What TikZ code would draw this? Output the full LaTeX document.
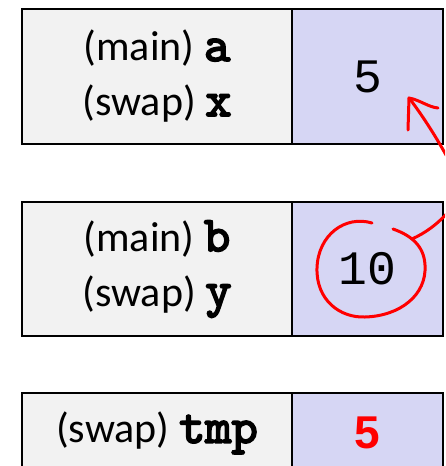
\documentclass[tikz,border=0pt]{standalone}
\usepackage{fontspec}
\setmainfont{Carlito}
\newfontfamily\codefont{Liberation Mono}
\newfontfamily\boldcode{lmmono10-regular}[Extension=.otf,FakeBold=3.5]
\newfontfamily\numfont{Liberation Sans}
\definecolor{cellgray}{HTML}{F2F2F2}
\definecolor{cellblue}{HTML}{D6D6F4}
\definecolor{penred}{HTML}{FF0000}
\newcommand{\varname}[1]{{\boldcode\fontsize{50}{55}\selectfont #1}}
\begin{document}
\begin{tikzpicture}[x=1pt,y=-1pt,
  namecell/.style={draw,line width=2.5pt,fill=cellgray,minimum width=270pt,
    inner sep=0pt,outer sep=0pt,align=center,font=\fontsize{42}{55}\selectfont},
  valcell/.style={draw,line width=2.5pt,fill=cellblue,minimum width=151pt,
    inner sep=0pt,outer sep=0pt,anchor=west,font=\codefont\fontsize{48}{55}\selectfont},
  redpen/.style={draw=penred,line width=3pt,line cap=round,line join=round}]
\useasboundingbox (0,0) rectangle (445,466);
\clip (0,0) rectangle (445,466);
% a / x
\node[namecell,minimum height=135pt] (mainA) at (157,76.5) {(main) \varname{a}\\(swap) \varname{x}};
\node[valcell,minimum height=135pt] (valA) at (mainA.east) {5};
% b / y
\node[namecell,minimum height=134pt] (mainB) at (157,269) {(main) \varname{b}\\(swap) \varname{y}};
\node[valcell,minimum height=134pt] (valB) at (mainB.east) {10};
% tmp
\node[namecell,minimum height=80pt] (tmpName) at (157,433) {(swap) \varname{tmp}};
\node[valcell,minimum height=80pt,font=\numfont\bfseries\fontsize{46}{50}\selectfont,
  text=penred] (tmpVal) at (tmpName.east) {5};
% pen marks
\coordinate (tip) at (409,98);
\draw[redpen] (372,223) .. controls (345,215) and (318,235) .. (317,268)
  .. controls (316,300) and (340,318) .. (365,317)
  .. controls (400,316) and (427,295) .. (425,265)
  .. controls (424,245) and (410,235) .. (393,229);
\draw[redpen] (412,239) .. controls (425,233) and (437,225) .. (450,210)
  .. controls (470,190) and (460,170) .. (446,155)
  .. controls (435,135) and (420,112) .. (tip);
\draw[redpen] (408,130) -- (tip) .. controls (420,100) and (428,107) .. (438,108);
\end{tikzpicture}
\end{document}
